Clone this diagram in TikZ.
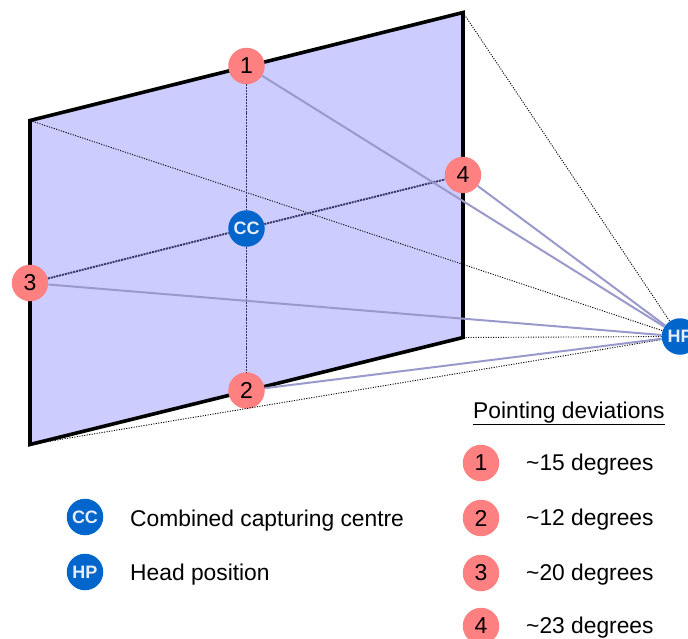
\documentclass[tikz,border=0pt]{standalone}
\usepackage{fontspec}
\setmainfont{Liberation Sans}
\tikzset{
  x=1pt,y=-1pt,
  badge/.style={circle,fill=badgered,draw=none,minimum size=36.5pt,inner sep=0pt,font=\fontsize{23}{25}\selectfont,text=black},
  blueb/.style={circle,fill=badgeblue,draw=none,minimum size=36.5pt,inner sep=0pt,font=\fontsize{18}{20}\selectfont\bfseries,text=badgetext},
  sight/.style={draw=sightline,line width=2pt},
  guide/.style={draw=black,line width=0.9pt,dash pattern=on 1.1pt off 1.4pt},
  axis/.style={draw=axisline,line width=1.9pt,dash pattern=on 2pt off 0.9pt},
  label/.style={anchor=base west,inner sep=0pt,font=\fontsize{22.8}{26}\selectfont,text=black}
}
\definecolor{badgered}{HTML}{FF8080}
\definecolor{badgeblue}{HTML}{0066CC}
\definecolor{badgetext}{HTML}{E6ECFA}
\definecolor{panelfill}{HTML}{CCCCFF}
\definecolor{sightline}{HTML}{9999CC}
\definecolor{axisline}{HTML}{333366}
\begin{document}
\begin{tikzpicture}
\useasboundingbox (0,0) rectangle (688,639);
\clip (0,0) rectangle (688,639);
\coordinate (tl) at (30,120.5);
\coordinate (tr) at (463,12.5);
\coordinate (br) at (463,337.5);
\coordinate (bl) at (30,444.5);
\draw[fill=panelfill,line width=3.6pt,miter limit=10] (tl) -- (tr) -- (br) -- (bl) -- cycle;
\node[badge] (n1) at (246.5,66) {1};
\node[badge] (n2) at (246.5,390.5) {2};
\node[badge] (n3) at (30,283) {3};
\node[badge] (n4) at (463,175) {4};
\node[blueb] (cc) at (246.5,228.5) {CC};
\node[blueb] (hp) at (680,336.5) {HP};
\draw[guide] (tl) -- (hp);
\draw[guide] (tr) -- (hp);
\draw[guide] (br) -- (hp);
\draw[guide] (bl) -- (hp);
\draw[axis] (n1) -- (cc);
\draw[axis] (cc) -- (n2);
\draw[axis] (n3) -- (cc);
\draw[axis] (cc) -- (n4);
\draw[sight] (n1) -- (hp);
\draw[sight] (n2) -- (hp);
\draw[sight] (n3) -- (hp);
\draw[sight] (n4) -- (hp);
\node[blueb] (lcc) at (85,517) {CC};
\node[blueb] (lhp) at (85,572) {HP};
\node[label] (tcc) at (130,526) {Combined capturing centre};
\node[label] (thp) at (130,580.5) {Head position};
\node[label] (head) at (473,418) {\underline{Pointing deviations}};
\node[badge] (l1) at (481,463) {1};
\node[badge] (l2) at (481,518) {2};
\node[badge] (l3) at (481,573) {3};
\node[badge] (l4) at (481,626) {4};
\node[label] (d1) at (526,470.5) {\char126 15 degrees};
\node[label] (d2) at (526,525.5) {\char126 12 degrees};
\node[label] (d3) at (526,580.5) {\char126 20 degrees};
\node[label] (d4) at (526,633) {\char126 23 degrees};
\end{tikzpicture}
\end{document}
